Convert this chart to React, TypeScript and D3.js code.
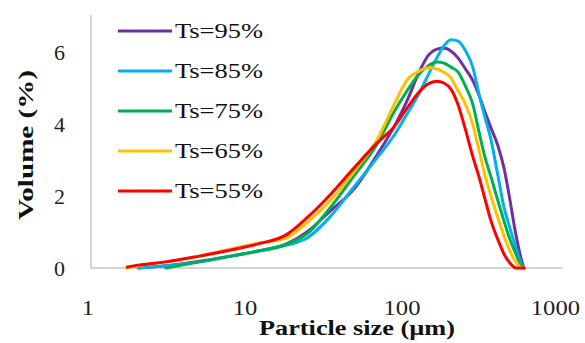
import React from 'react';
import * as d3 from 'd3';

// particle size bins (µm)
const sizes = [1.7, 2, 3, 4.9, 7.8, 11.6, 17.5, 24.1, 33.3, 47.3, 66.3, 85.1, 103, 123, 140, 160, 177, 196, 218, 241, 271, 296, 323, 353, 391, 427, 460, 509, 556, 573];

// volume (%) per series
const ts95 = [null, 0, 0.06, 0.19, 0.33, 0.47, 0.66, 1.02, 1.58, 2.19, 3.14, 3.92, 4.64, 5.44, 5.89, 6.08, 6.11, 6.03, 5.83, 5.55, 5.2, 4.8, 4.33, 3.89, 3.39, 2.78, 2.03, 0.92, 0.17, 0];
const ts85 = [null, 0, 0.06, 0.17, 0.33, 0.47, 0.63, 0.85, 1.42, 2.25, 3.06, 3.68, 4.28, 4.85, 5.35, 5.85, 6.17, 6.34, 6.3, 6.06, 5.56, 4.83, 4.19, 3.56, 2.56, 1.69, 1.19, 0.56, 0.08, 0];
const ts75 = [null, null, 0, 0.17, 0.33, 0.47, 0.66, 0.97, 1.67, 2.56, 3.44, 4.33, 4.92, 5.39, 5.61, 5.72, 5.69, 5.58, 5.44, 5.08, 4.53, 3.78, 3.08, 2.53, 1.86, 1.31, 0.86, 0.39, 0.03, 0];
const ts65 = [0, 0.06, 0.17, 0.33, 0.53, 0.69, 0.83, 1.28, 1.86, 2.67, 3.56, 4.53, 5.22, 5.47, 5.56, 5.53, 5.44, 5.28, 4.92, 4.58, 3.97, 3.28, 2.58, 2.0, 1.39, 0.89, 0.53, 0.17, 0, 0];
const ts55 = [0.03, 0.08, 0.17, 0.33, 0.5, 0.67, 0.92, 1.42, 2.03, 2.78, 3.47, 3.92, 4.44, 4.89, 5.11, 5.19, 5.14, 4.97, 4.53, 3.89, 3.08, 2.53, 1.92, 1.31, 0.78, 0.39, 0.17, 0, 0, 0];

const seriesNames = ['Ts=95%', 'Ts=85%', 'Ts=75%', 'Ts=65%', 'Ts=55%'];
const seriesValues = [ts95, ts85, ts75, ts65, ts55];
const seriesColors = ['#7030A0', '#00B0F0', '#00B050', '#FFC000', '#FF0000'];

const xTicks = [1, 10, 100, 1000];
const yTicks = [0, 2, 4, 6];

const W = 585;
const H = 343;
const FONT = "'Liberation Serif', 'Times New Roman', Times, serif";

export default function App() {
  const x = d3.scaleLog().domain([1, 1000]).range([91, 562]);
  const y = d3.scaleLinear().domain([0, 7]).range([268, 16]);

  const line = d3
    .line<[number, number | null]>()
    .defined((d) => d[1] !== null)
    .x((d) => x(d[0]))
    .y((d) => y(d[1] as number))
    .curve(d3.curveMonotoneX);

  const textStyle = { fontFamily: FONT };

  return (
    <svg
      width={W}
      height={H}
      style={{ position: 'fixed', left: 0, top: 0, background: '#fff' }}
    >
      <rect x={0} y={0} width={W} height={H} fill="#fff" />
      {/* axes */}
      <line x1={x(1)} x2={x(1)} y1={y(7) - 1} y2={y(0)} stroke="#C4C4C4" strokeWidth={1.5} />
      <line x1={x(1)} x2={x(1000)} y1={y(0)} y2={y(0)} stroke="#C4C4C4" strokeWidth={1.5} />

      {/* y tick labels */}
      {yTicks.map((t) => (
        <text key={t} x={65} y={y(t) + 8} textAnchor="end" fontSize={22} fill="#222" style={textStyle}>
          {t}
        </text>
      ))}

      {/* x tick labels */}
      {xTicks.map((t) => {
        const label = String(t);
        const len = 12.3 * label.length;
        let cx = x(t) - 3;
        if (cx + len / 2 > 580) cx = 580 - len / 2;
        return (
          <text
            key={t}
            x={cx - len / 2}
            y={315}
            fontSize={22}
            fill="#222"
            textLength={len}
            lengthAdjust="spacingAndGlyphs"
            style={textStyle}
          >
            {label}
          </text>
        );
      })}

      {/* axis titles */}
      <text
        x={259}
        y={335}
        fontSize={20}
        fontWeight="bold"
        fill="#111"
        textLength={196}
        lengthAdjust="spacingAndGlyphs"
        style={textStyle}
      >
        Particle size (µm)
      </text>
      <text
        transform="translate(33,220) rotate(-90)"
        x={0}
        y={0}
        fontSize={21}
        fontWeight="bold"
        fill="#111"
        textLength={150}
        lengthAdjust="spacingAndGlyphs"
        style={textStyle}
      >
        Volume (%)
      </text>

      {/* series */}
      {seriesValues.map((vals, i) => (
        <path
          key={seriesNames[i]}
          d={line(sizes.map((s, j) => [s, vals[j]] as [number, number | null])) || ''}
          fill="none"
          stroke={seriesColors[i]}
          strokeWidth={3}
          strokeLinejoin="round"
          strokeLinecap="round"
        />
      ))}

      {/* legend */}
      {seriesNames.map((name, i) => {
        const ly = 31 + i * 40;
        return (
          <g key={name}>
            <line x1={118} x2={172} y1={ly} y2={ly} stroke={seriesColors[i]} strokeWidth={3} />
            <text
              x={175}
              y={ly + 6.5}
              fontSize={20}
              fill="#111"
              textLength={88}
              lengthAdjust="spacingAndGlyphs"
              style={textStyle}
            >
              {name}
            </text>
          </g>
        );
      })}
    </svg>
  );
}
